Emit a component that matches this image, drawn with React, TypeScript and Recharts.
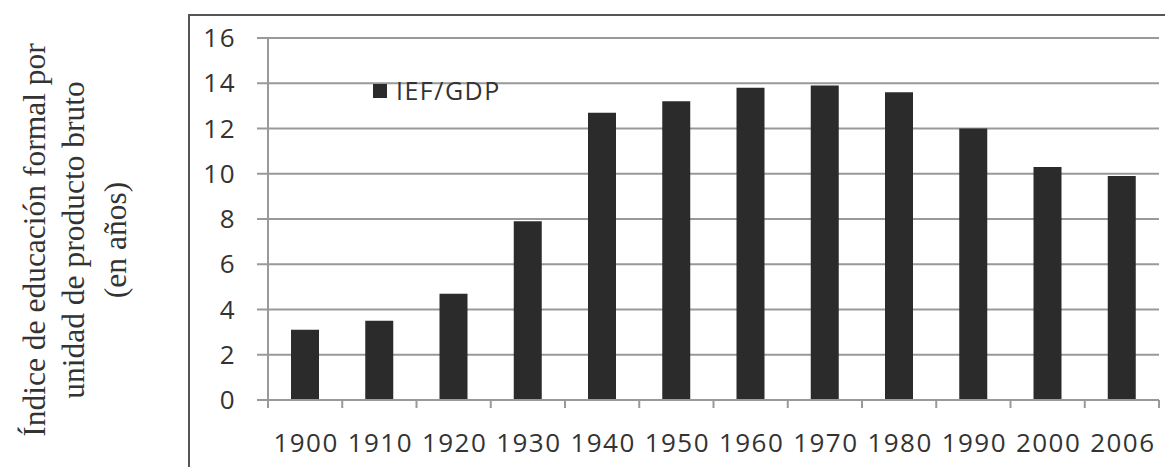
import { BarChart, Bar, XAxis, YAxis, CartesianGrid } from "recharts";

const years: string[] = ["1900", "1910", "1920", "1930", "1940", "1950", "1960", "1970", "1980", "1990", "2000", "2006"];
const iefGdp: number[] = [3.1, 3.5, 4.7, 7.9, 12.7, 13.2, 13.8, 13.9, 13.6, 12.0, 10.3, 9.9];
const yTicks: number[] = [0, 2, 4, 6, 8, 10, 12, 14, 16];
const titleLines: string[] = ["Índice de educación formal por", "unidad de producto bruto", "(en años)"];
const seriesName = "IEF/GDP";

const data = years.map((year, i) => ({ year, value: iefGdp[i] }));

const W = 1165;
const H = 467;
const MARGIN = { top: 38, right: 6, bottom: 0, left: 0 };
const X_AXIS_H = 67;
const Y_AXIS_W = 268;
const BAND = (W - MARGIN.right - Y_AXIS_W) / years.length;
const SANS = "'Open Sans', 'DejaVu Sans', sans-serif";
const BAR_COLOR = "#2b2b2b";
const TEXT_COLOR = "#333";

function YearTick(props: any) {
  const { x, y, payload, index } = props;
  const last = index === years.length - 1;
  return (
    <g>
      <line x1={x - BAND / 2} x2={x - BAND / 2} y1={y} y2={y + 8} stroke="#999" strokeWidth={2} />
      {last && <line x1={x + BAND / 2} x2={x + BAND / 2} y1={y} y2={y + 8} stroke="#999" strokeWidth={2} />}
      <text x={x + 1} y={y + 52} textAnchor="middle" fontFamily={SANS} fontSize={26} letterSpacing={1.5} fill={TEXT_COLOR}>
        {payload.value}
      </text>
    </g>
  );
}

// y title (three rotated lines) plus the legend, drawn inside the chart svg
function Extras() {
  const xs = [34, 73, 115];
  const cy = 240;
  return (
    <g>
      {titleLines.map((t, i) => (
        <text
          key={t}
          x={xs[i]}
          y={cy}
          transform={`rotate(-90 ${xs[i]} ${cy})`}
          textAnchor="middle"
          dominantBaseline="central"
          fontFamily="'Liberation Serif', 'DejaVu Serif', serif"
          fontSize={31.5}
          fill={TEXT_COLOR}
        >
          {t}
        </text>
      ))}
      <rect x={373} y={84} width={14} height={14} fill={BAR_COLOR} />
      <text x={396} y={100} fontFamily={SANS} fontSize={25} letterSpacing={1.5} fill={TEXT_COLOR}>
        {seriesName}
      </text>
    </g>
  );
}

export default function App() {
  return (
    <div style={{ position: "absolute", left: 0, top: 0, width: W, height: H, overflow: "hidden", background: "#fff" }}>
      <div
        style={{
          position: "absolute",
          left: 188,
          top: 14,
          width: 1100,
          height: 600,
          border: "2px solid #555",
          boxSizing: "border-box",
        }}
      />
      <div style={{ position: "absolute", left: 0, top: 0 }}>
        <BarChart width={W} height={H} data={data} margin={MARGIN}>
          <CartesianGrid vertical={false} stroke="#999" strokeWidth={2} />
          <XAxis
            dataKey="year"
            height={X_AXIS_H}
            tickLine={false}
            tickSize={0}
            tickMargin={0}
            axisLine={{ stroke: "#999", strokeWidth: 2 }}
            tick={<YearTick />}
            interval={0}
          />
          <YAxis
            width={Y_AXIS_W}
            domain={[0, 16]}
            ticks={yTicks}
            interval={0}
            tickSize={11}
            tickMargin={21}
            axisLine={{ stroke: "#999", strokeWidth: 2 }}
            tickLine={{ stroke: "#999", strokeWidth: 2 }}
            tick={{ fontFamily: SANS, fontSize: 26, fill: TEXT_COLOR, letterSpacing: 1.5 }}
            label={{ content: () => <Extras /> }}
          />
          <Bar dataKey="value" name={seriesName} fill={BAR_COLOR} barSize={28} isAnimationActive={false} />
        </BarChart>
      </div>
    </div>
  );
}
